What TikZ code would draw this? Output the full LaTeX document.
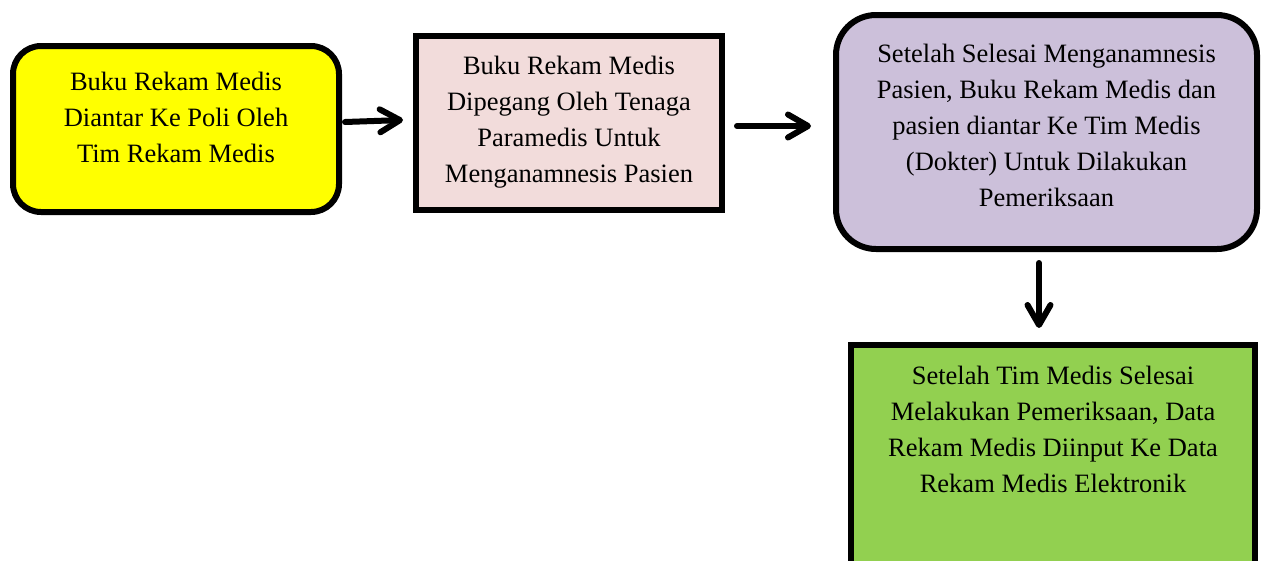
\documentclass[tikz,border=0pt]{standalone}
\usepackage{fontspec}
\setmainfont{Liberation Serif}
\usetikzlibrary{arrows.meta}
\definecolor{boxyellow}{HTML}{FFFF00}
\definecolor{boxpink}{HTML}{F2DCDB}
\definecolor{boxlilac}{HTML}{CCC0DA}
\definecolor{boxgreen}{HTML}{92D050}
\begin{document}
\begin{tikzpicture}[x=1pt,y=-1pt,
  box/.style={draw=black,line width=6pt,inner sep=0pt},
  roundbox/.style={box,rounded corners=28pt},
  txt/.style={anchor=north,inner sep=0pt,align=center,
    font=\fontsize{26.5}{36}\selectfont},
  flow/.style={line width=6pt,line cap=round,
    -{Straight Barb[length=20pt,width=23pt,line cap=round,line join=round]}}]
  \clip (0,0) rectangle (1263,560);
  % process boxes
  \node[roundbox,fill=boxyellow,minimum width=326pt,minimum height=166pt] (b1) at (176,129) {};
  \node[box,fill=boxpink,minimum width=306pt,minimum height=174pt] (b2) at (569,123) {};
  \node[box,rounded corners=40pt,fill=boxlilac,minimum width=421pt,minimum height=234pt] (b3) at (1046.5,132) {};
  \node[box,fill=boxgreen,minimum width=404pt,minimum height=255pt] (b4) at (1053,472.5) {};
  % box texts
  \node[txt] (t1) at (176,72) {Buku Rekam Medis\\Diantar Ke Poli Oleh\\Tim Rekam Medis};
  \node[txt] (t2) at (569,56) {Buku Rekam Medis\\Dipegang Oleh Tenaga\\Paramedis Untuk\\Menganamnesis Pasien};
  \node[txt] (t3) at (1046.5,44) {Setelah Selesai Menganamnesis\\Pasien, Buku Rekam Medis dan\\pasien diantar Ke Tim Medis\\(Dokter) Untuk Dilakukan\\Pemeriksaan};
  \node[txt] (t4) at (1053,366) {Setelah Tim Medis Selesai\\Melakukan Pemeriksaan, Data\\Rekam Medis Diinput Ke Data\\Rekam Medis Elektronik};
  % connectors
  \coordinate (a1s) at (345,122);
  \coordinate (a1e) at (403,120);
  \coordinate (a2s) at (737,126);
  \coordinate (a2e) at (811,126);
  \coordinate (a3s) at (1039,263);
  \coordinate (a3e) at (1039,328);
  \draw[flow] (a1s) -- (a1e);
  \draw[flow] (a2s) -- (a2e);
  \draw[flow] (a3s) -- (a3e);
\end{tikzpicture}
\end{document}
